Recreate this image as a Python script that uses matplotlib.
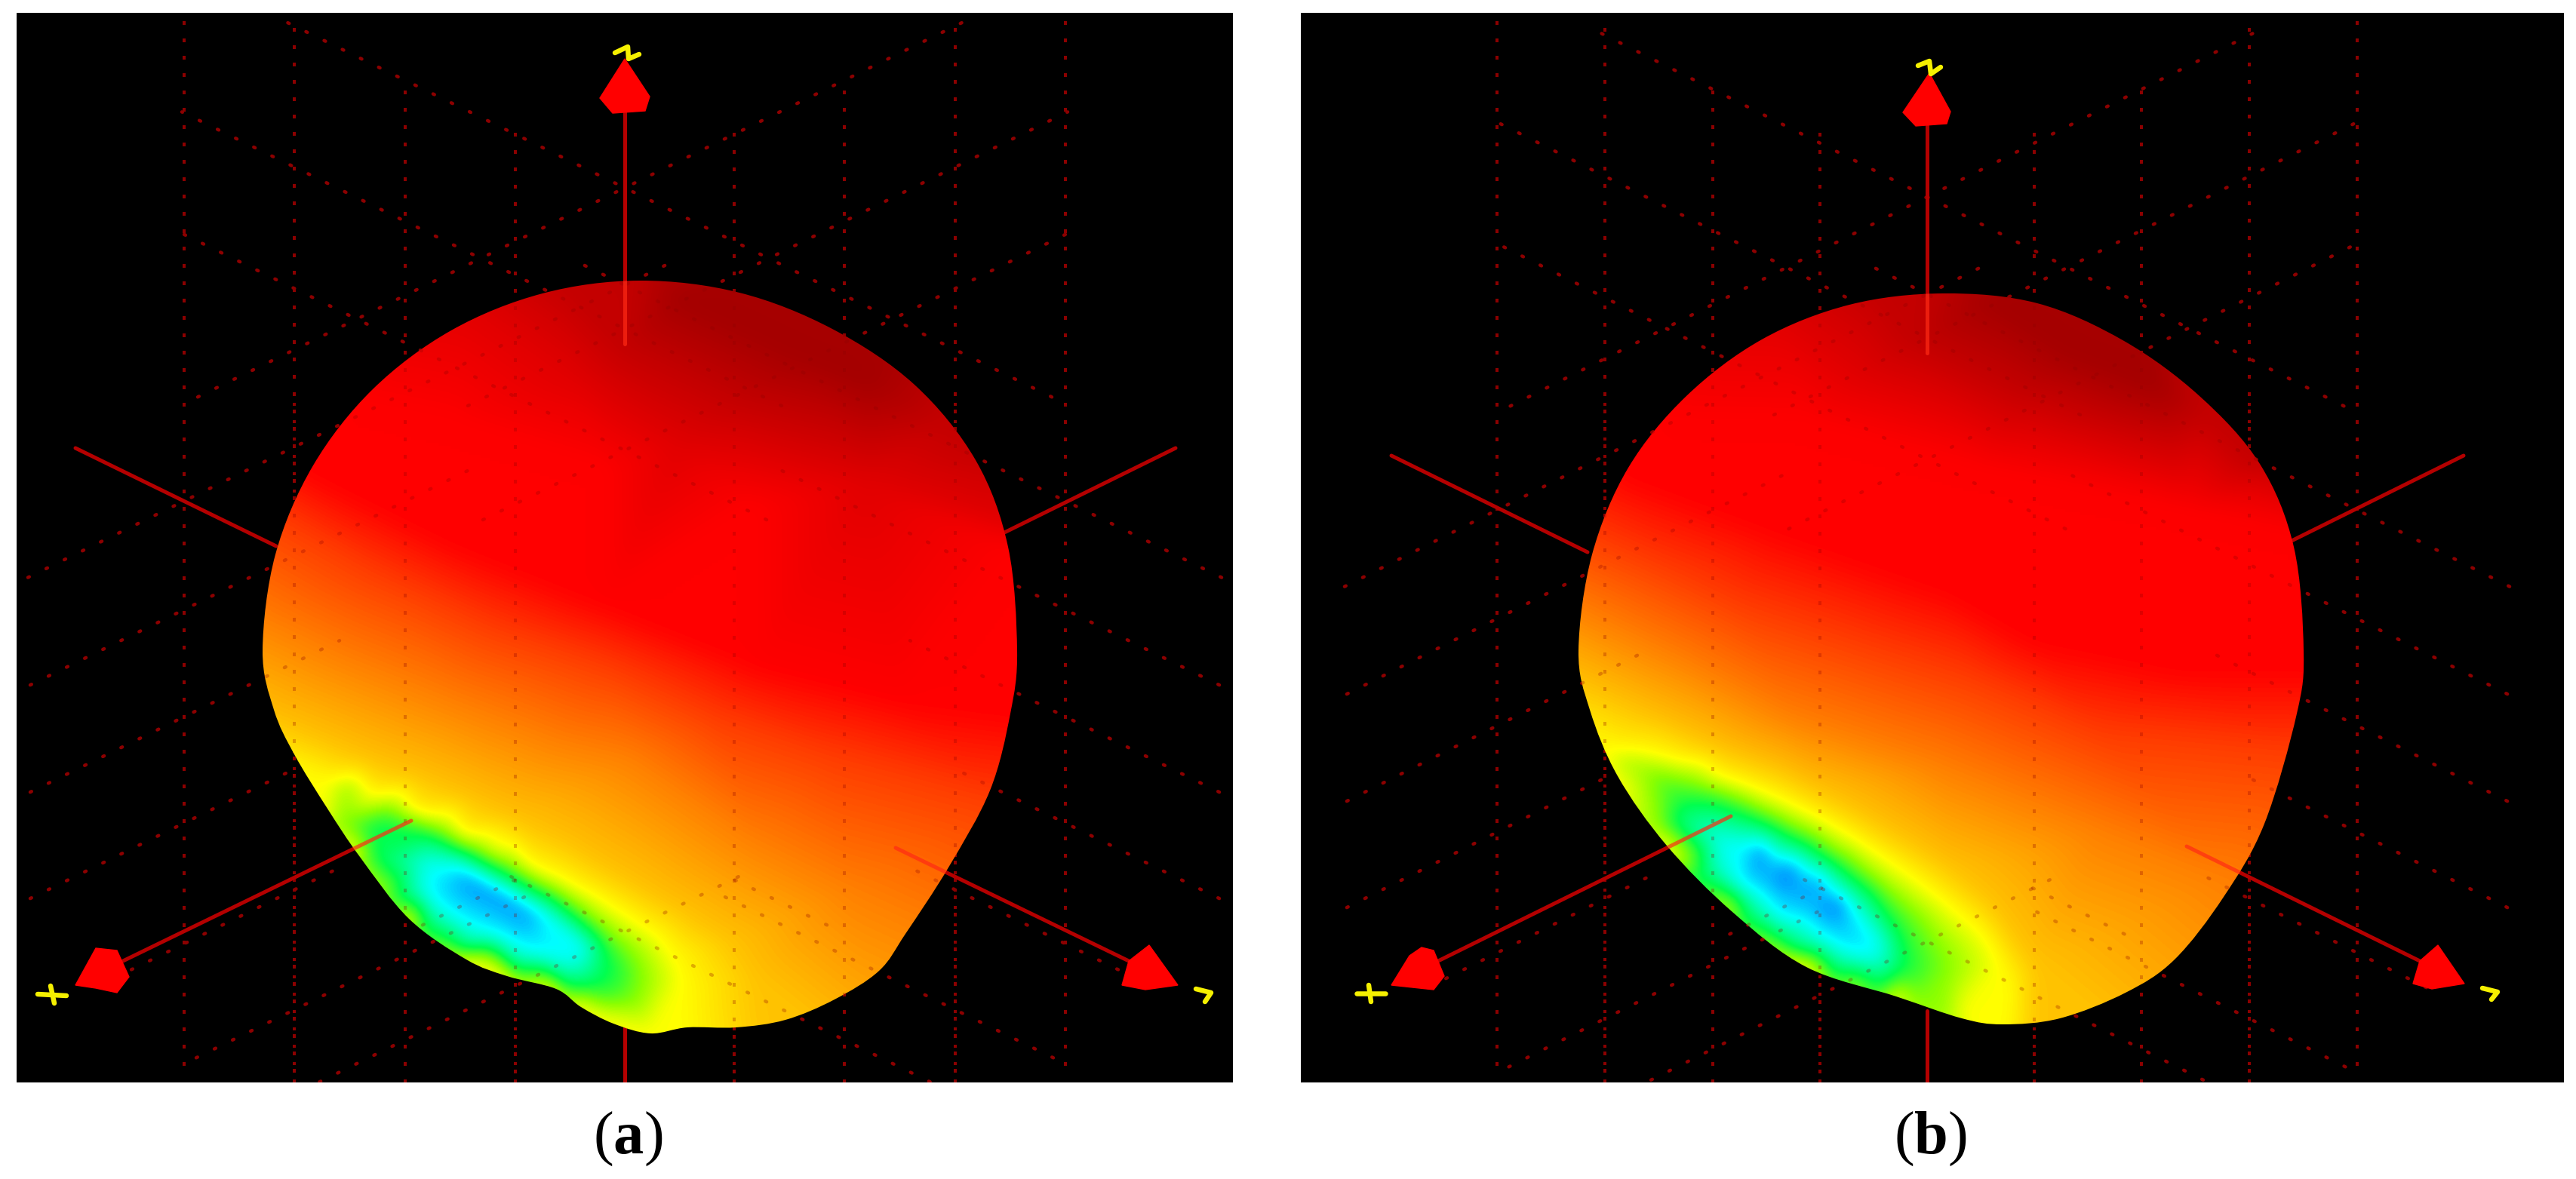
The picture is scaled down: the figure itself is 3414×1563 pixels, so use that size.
import numpy as np
import matplotlib
matplotlib.use("Agg")
import matplotlib.pyplot as plt
import matplotlib.tri as mtri
from matplotlib.colors import LinearSegmentedColormap
from matplotlib.patches import Polygon, PathPatch, Rectangle
from matplotlib.path import Path

plt.rcParams['lines.scale_dashes'] = False
plt.rcParams['mathtext.fontset'] = 'custom'
plt.rcParams['mathtext.rm'] = 'Liberation Serif'
plt.rcParams['mathtext.bf'] = 'Liberation Serif:bold'

PX = 0.72  # one pixel in points at dpi 100

# gain colours: 0 = blue ... 1 = dark red
gain_stops = [0.0, 0.07, 0.15, 0.28, 0.37, 0.45, 0.60, 0.75, 1.0]
gain_colors = ['#0000ff', '#0080ff', '#00ffff', '#00ff50', '#8cff00', '#ffff00', '#ff8000', '#ff0000', '#a50000']
gain_cmap = LinearSegmentedColormap.from_list('gain', list(zip(gain_stops, gain_colors)))

labels = ['a', 'b']
panel_a_box = [22, 17, 1634, 1435]
panel_b_box = [1724, 17, 3398, 1435]

# lobe outlines
outline_a = [(848,372),(719,389),(598,438),(494,516),(415,617),(365,735),(348,862),
             (363,941),(390,1000),(434,1072),(477,1136),(542,1218),(618,1272),(672,1294),(737,1311),(770,1335),
             (813,1357),(862,1370),(911,1362),(976,1362),(1041,1352),(1106,1325),(1165,1287),(1200,1238),(1257,1150),(1312,1048),
             (1339,946),(1348,862),(1336,725),(1293,610),(1212,510),(1103,436),(980,388)]
outline_b = [(2575,389),(2451,404),(2335,450),(2235,525),(2158,620),(2110,735),(2092,862),
             (2107,941),(2144,1029),(2209,1121),(2296,1209),(2394,1282),(2513,1321),(2600,1350),(2654,1358),(2730,1350),(2817,1316),
             (2882,1272),(2947,1189),(3001,1092),(3044,946),(3053,862),(3040,725),(2995,615),(2915,525),(2815,452),(2700,402)]

# colour bands of the lobe: gain level and where that level runs
bands_a = [
    (1.00, [(900,395),(1000,440),(1062,470),(1150,505)]),
    (0.91, [(740,370),(824,459),(975,530),(1247,561),(1300,590)]),
    (0.83, [(620,400),(759,500),(900,590),(1150,640),(1340,690)]),
    (0.75, [(455,530),(600,560),(800,620),(1000,670),(1350,730)]),
    (0.75, [(400,620),(600,720),(800,800),(1000,880),(1200,930),(1360,950)]),
    (0.68, [(360,680),(500,760),(650,830),(800,880),(950,950),(1100,1000),(1330,1060)]),
    (0.60, [(335,815),(450,870),(600,930),(835,1005),(1000,1115),(1130,1180),(1240,1230)]),
    (0.52, [(345,950),(420,980),(480,1005),(546,1028),(612,1055),(680,1086),(746,1117),(800,1150),(857,1183),(915,1217),
            (969,1250),(1000,1300),(1010,1380)]),
    (0.45, [(380,1020),(434,1040),(492,1060),(550,1083),(612,1110),(656,1130),(701,1150),(746,1170),(791,1193),(831,1218),
            (871,1243),(890,1270),(902,1300),(905,1375)]),
    (0.45, [(410,1050),(434,1072),(477,1136),(542,1218),(618,1272),(672,1294),(737,1311),(770,1335),(813,1357),(862,1372)]),
    (0.37, [(456,1048),(514,1070),(550,1086),(585,1103),(630,1125),(675,1147),(722,1175),(768,1203),(802,1232),(835,1260),
            (848,1280),(853,1300),(840,1333),(790,1333),(746,1317),(679,1297),(603,1267),(550,1227),(510,1180),(478,1137),(447,1085)]),
    (0.28, [(487,1100),(510,1090),(568,1107),(604,1125),(639,1143),(682,1167),(724,1190),(758,1216),(791,1243),(803,1265),
            (811,1287),(791,1308),(746,1310),(679,1290),(612,1267),(563,1230),(523,1190),(492,1137)]),
    (0.15, [(568,1147),(603,1147),(630,1162),(657,1177),(690,1195),(724,1213),(750,1235),(773,1257),(764,1270),(719,1267),
            (657,1240),(603,1217),(563,1183)]),
    (0.08, [(625,1165),(657,1185),(692,1208)]),
]
frame_a = [(300,330,.80),(600,330,.86),(850,330,.92),(1100,330,.98),(1400,330,.90),(300,540,.72),(1400,540,.90),(300,700,.65),
           (1400,700,.78),(300,850,.58),(1400,850,.75),(1400,1000,.74),(1400,1150,.64),(1300,1300,.56),(1150,1420,.52),
           (300,1000,.49),(400,1150,.45),(500,1300,.45),(700,1400,.45),(900,1420,.45)]

bands_b = [
    (1.00, [(2640,400),(2749,469),(2860,510)]),
    (0.91, [(2480,380),(2531,449),(2684,520),(2924,551),(2990,610)]),
    (0.83, [(2350,420),(2465,500),(2684,571),(3001,643),(3040,660)]),
    (0.75, [(2200,556),(2400,561),(2629,622),(2902,678),(3060,710)]),
    (0.75, [(2150,627),(2246,663),(2356,704),(2574,780),(2697,849),(2892,888),(3070,888)]),
    (0.68, [(2100,704),(2214,755),(2307,800),(2459,849),(2611,897),(2784,970),(3050,995)]),
    (0.60, [(2075,800),(2220,870),(2372,950),(2567,1014),(2784,1102),(2947,1165),(2970,1180)]),
    (0.52, [(2085,905),(2184,950),(2273,990),(2362,1023),(2407,1047),(2451,1070),(2496,1097),(2540,1123),(2585,1153),(2630,1190),
            (2665,1235),(2697,1283),(2697,1375)]),
    (0.45, [(2125,995),(2170,998),(2220,1010),(2273,1030),(2318,1045),(2362,1063),(2407,1085),(2451,1110),(2496,1140),(2540,1170),
            (2585,1205),(2630,1243),(2650,1280),(2665,1316),(2657,1375)]),
    (0.45, [(2144,1029),(2209,1121),(2296,1209),(2394,1282),(2513,1321),(2600,1350)]),
    (0.37, [(2153,1017),(2184,1020),(2240,1035),(2300,1056),(2345,1078),(2389,1100),(2432,1128),(2474,1157),(2510,1187),(2545,1217),
            (2568,1250),(2585,1283),(2576,1340),(2541,1333),(2451,1303),(2362,1263),(2295,1210),(2242,1153),(2197,1090)]),
    (0.28, [(2211,1090),(2228,1067),(2273,1067),(2306,1080),(2340,1093),(2374,1112),(2407,1130),(2443,1157),(2478,1183),(2500,1217),
            (2518,1250),(2523,1283),(2496,1308),(2429,1290),(2371,1260),(2309,1213),(2246,1157)]),
    (0.15, [(2282,1120),(2322,1123),(2355,1140),(2389,1160),(2420,1180),(2451,1203),(2470,1226),(2489,1250),(2478,1270),(2425,1250),
            (2362,1220),(2309,1177)]),
    (0.05, [(2326,1127),(2371,1157),(2407,1177),(2438,1203)]),
    (0.11, [(2335,1167),(2389,1200),(2442,1230)]),
]
frame_b = [(2050,330,.80),(2330,330,.86),(2580,330,.92),(2830,340,.98),(3120,340,.90),(2050,540,.72),(3120,540,.90),(2050,700,.65),
           (3120,700,.78),(2030,850,.56),(3120,850,.75),(3120,1000,.74),(3120,1150,.64),(3020,1300,.56),(2860,1420,.52),
           (2040,1000,.47),(2130,1150,.45),(2250,1300,.45),(2450,1400,.45),(2630,1420,.45)]

# dotted grid, in panel (a) pixels; the other half is the mirror image around the vertical axis
grid_columns = [(244,28,1423), (390,37,1435), (537,120,1435), (683,176,1435)]
grid_rising = [(249,262,1292), (378,37,900), (436,620,1415), (597,640,1415), (522,40,640), (664,40,450),
               (805,40,400), (1095,560,700), (1124,260,700), (965,150,450), (1236,25,1000), (1378,50,560),
               (1523,43,600), (1450,380,790), (1560,540,780)]

# axis ends: line from / to, cone outline, yellow letter strokes
axes_a = [
    ((828,148),(828,456), [(828,78),(795,130),(812,150),(855,147),(861,128)], [[(815,70),(832,62),(833,78),(847,72)]]),
    ((163,1274),(545,1088), [(127,1257),(155,1260),(171,1295),(155,1316),(127,1310),(100,1306)], [[(50,1318),(88,1320)],[(67,1307),(72,1330)]]),
    ((1496,1274),(1187,1124), [(1523,1253),(1561,1306),(1518,1312),(1487,1306),(1496,1274)], [[(1585,1311),(1605,1316),(1597,1328)]]),
]
axes_b = [
    ((2554,166),(2554,468), [(2557,97),(2522,149),(2539,167),(2580,164),(2585,148)], [[(2542,87),(2557,81),(2559,98),(2572,89)]]),
    ((1906,1274),(2294,1082), [(1884,1256),(1900,1260),(1914,1294),(1900,1312),(1844,1306),(1868,1267)], [[(1798,1317),(1836,1317)],[(1814,1306),(1817,1328)]]),
    ((3207,1274),(2898,1122), [(3231,1253),(3266,1304),(3223,1311),(3198,1304),(3207,1274)], [[(3290,1310),(3310,1315),(3302,1325)]]),
]
rods_a = [((100,594),(366,724)), ((1558,594),(1325,709)), ((828,1362),(828,1435))]
rods_b = [((1844,604),(2104,732)), ((3265,604),(3033,719)), ((2554,1340),(2554,1435))]


def smooth_outline(points):
    # closed curve through the outline points
    pts = np.array(points, dtype=float)
    n = len(pts)
    verts = [pts[0]]
    codes = [Path.MOVETO]
    for i in range(n):
        p0, p1, p2, p3 = pts[i - 1], pts[i], pts[(i + 1) % n], pts[(i + 2) % n]
        verts += [p1 + (p2 - p0) / 6, p2 - (p3 - p1) / 6, p2]
        codes += [Path.CURVE4] * 3
    return Path(verts, codes)


def box_blur(z, width, passes=2):
    kernel = np.ones(width) / width
    for _ in range(passes):
        z = np.apply_along_axis(lambda r: np.convolve(r, kernel, mode='same'), 0, z)
        z = np.apply_along_axis(lambda r: np.convolve(r, kernel, mode='same'), 1, z)
    return z


def draw_grid(ax, axis_x, scale, shift, clip, alpha=1.0, overlay=False):
    col = '#8c0000'
    for x, y0, y1 in grid_columns:
        for side in (-1, 1):
            xp = axis_x + side * scale * (x - 828)
            ln, = ax.plot([xp, xp], [y0, y1], color=col, lw=4 * PX, alpha=alpha,
                          dash_capstyle='butt', ls=(0, (5 * PX, 18 * PX)))
            ln.set_clip_path(clip)
            if not overlay:
                ln2, = ax.plot([xp, xp], [max(y0, 520), y1], color=col, lw=4 * PX,
                               dash_capstyle='butt', ls=(9 * PX, (4 * PX, 19 * PX)))
                ln2.set_clip_path(clip)
    for c, x0, x1 in grid_rising:
        for side in (-1, 1):
            xs = np.array([x0, x1], dtype=float)
            ys = c + shift - 0.49 * (xs - 828)
            xp = axis_x + side * scale * (xs - 828)
            ln, = ax.plot(xp, ys, color=col, lw=4.5 * PX, alpha=alpha, dash_capstyle='round',
                          ls=(0, (2 * PX, 24.8 * PX)))
            ln.set_clip_path(clip)


def draw_panel(ax, box, outline, bands, frame, axes_list, rods, axis_x, scale, shift, label):
    x0, y0, x1, y1 = box
    panel = Rectangle((x0, y0), x1 - x0, y1 - y0, facecolor='black', edgecolor='none', zorder=0)
    ax.add_patch(panel)
    draw_grid(ax, axis_x, scale, shift, panel)
    for start, end in rods:
        ln, = ax.plot(*zip(start, end), color='#b40000', lw=5 * PX, solid_capstyle='round')
        ln.set_clip_path(panel)
    for start, end, cone, strokes in axes_list:
        ax.plot(*zip(start, end), color='#b40000', lw=5 * PX, solid_capstyle='round')

    lobe = PathPatch(smooth_outline(outline), facecolor='none', edgecolor='none', zorder=3)
    ax.add_patch(lobe)

    xs, ys, vs = [], [], []
    for level, pts in bands:
        for px, py in pts:
            xs.append(px); ys.append(py); vs.append(level)
    for px, py, v in frame:
        xs.append(px); ys.append(py); vs.append(v)
    tri = mtri.Triangulation(xs, ys)
    interp = mtri.LinearTriInterpolator(tri, vs)
    gx = np.arange(min(xs), max(xs) + 4, 4)
    gy = np.arange(min(ys), max(ys) + 4, 4)
    zi = interp(*np.meshgrid(gx, gy)).filled(np.nan)
    zi = np.where(np.isnan(zi), np.nanmean(zi), zi)
    zi = box_blur(np.pad(zi, 12, mode='edge'), 7)[12:-12, 12:-12]
    im = ax.imshow(zi, extent=(gx[0], gx[-1], gy[-1], gy[0]), origin='upper', cmap=gain_cmap, vmin=0, vmax=1,
                   aspect='auto', interpolation='bilinear', zorder=3)
    im.set_clip_path(lobe)

    # grid and axis lines show faintly through the lobe
    n_before = len(ax.lines)
    draw_grid(ax, axis_x, scale, shift, lobe, alpha=0.28, overlay=True)
    for start, end, cone, strokes in axes_list:
        ln, = ax.plot(*zip(start, end), color='#ff2a14', lw=5 * PX, alpha=0.7, solid_capstyle='round')
        ln.set_clip_path(lobe)
    for ln in ax.lines[n_before:]:
        ln.set_zorder(4)

    for start, end, cone, strokes in axes_list:
        ax.add_patch(Polygon(cone, closed=True, facecolor='#ff0000', edgecolor='#ff0000', lw=1, zorder=5))
        for stroke in strokes:
            ax.plot(*zip(*stroke), color='#f5f000', lw=6.5 * PX, zorder=5, solid_capstyle='round', solid_joinstyle='round')
    ax.text(axis_x + 4, 1510, r'($\mathbf{%s}$)' % label, ha='center', va='center', fontsize=58,
            family='Liberation Serif', color='black', zorder=6)


fig = plt.figure(figsize=(34.14, 15.63), dpi=100, facecolor='white')
ax = fig.add_axes([0, 0, 1, 1])

draw_panel(ax, panel_a_box, outline_a, bands_a, frame_a, axes_a, rods_a, 828, 1.0, 0, labels[0])
draw_panel(ax, panel_b_box, outline_b, bands_b, frame_b, axes_b, rods_b, 2554, 0.976, 12, labels[1])

ax.set_xlim(0, 3414)
ax.set_ylim(1563, 0)
ax.axis('off')

fig.savefig('out.png', dpi=100, facecolor='white')
